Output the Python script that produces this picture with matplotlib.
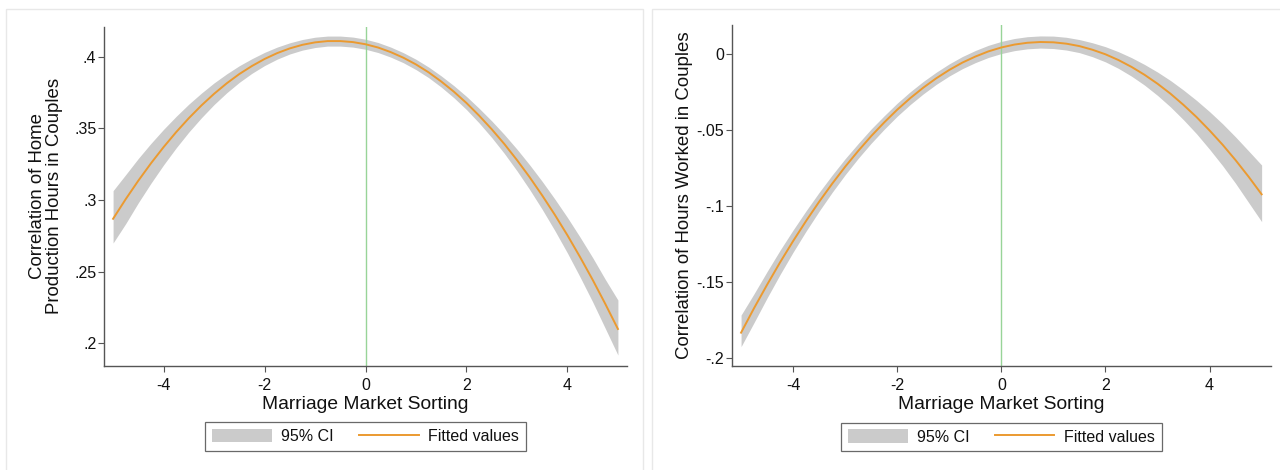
import matplotlib
matplotlib.use("Agg")
import matplotlib.pyplot as plt
from matplotlib.patches import Rectangle, Patch
from matplotlib.lines import Line2D

plt.rcParams['font.family'] = ['Liberation Sans', 'DejaVu Sans']

# ---------------- data ----------------
x_sort = [-5.0, -4.75, -4.5, -4.25, -4.0, -3.75, -3.5, -3.25, -3.0, -2.75, -2.5,
          -2.25, -2.0, -1.75, -1.5, -1.25, -1.0, -0.75, -0.5, -0.25, 0.0,
          0.25, 0.5, 0.75, 1.0, 1.25, 1.5, 1.75, 2.0, 2.25, 2.5,
          2.75, 3.0, 3.25, 3.5, 3.75, 4.0, 4.25, 4.5, 4.75, 5.0]

home_fit = [0.2869, 0.3006, 0.3135, 0.3256, 0.3369, 0.3474, 0.3571, 0.3660, 0.3741, 0.3814, 0.3879,
            0.3935, 0.3984, 0.4025, 0.4058, 0.4083, 0.4100, 0.4109, 0.4109, 0.4102, 0.4087,
            0.4064, 0.4032, 0.3993, 0.3946, 0.3891, 0.3827, 0.3756, 0.3677, 0.3589, 0.3494,
            0.3391, 0.3279, 0.3160, 0.3032, 0.2897, 0.2754, 0.2602, 0.2443, 0.2275, 0.2100]
home_lo = [0.2700, 0.2835, 0.2981, 0.3117, 0.3245, 0.3364, 0.3474, 0.3574, 0.3666, 0.3748, 0.3821,
           0.3884, 0.3938, 0.3983, 0.4019, 0.4046, 0.4064, 0.4074, 0.4074, 0.4067, 0.4052,
           0.4029, 0.3997, 0.3958, 0.3910, 0.3854, 0.3788, 0.3714, 0.3631, 0.3538, 0.3436,
           0.3325, 0.3204, 0.3074, 0.2935, 0.2787, 0.2630, 0.2463, 0.2289, 0.2104, 0.1918]
home_hi = [0.3065, 0.3177, 0.3290, 0.3395, 0.3493, 0.3584, 0.3669, 0.3746, 0.3817, 0.3880, 0.3937,
           0.3986, 0.4030, 0.4067, 0.4097, 0.4120, 0.4136, 0.4144, 0.4144, 0.4137, 0.4122,
           0.4099, 0.4067, 0.4028, 0.3982, 0.3928, 0.3866, 0.3798, 0.3723, 0.3640, 0.3552,
           0.3457, 0.3355, 0.3246, 0.3130, 0.3007, 0.2878, 0.2741, 0.2598, 0.2446, 0.2302]

work_fit = [-0.1835, -0.1673, -0.1519, -0.1371, -0.1231, -0.1098, -0.0972, -0.0853, -0.0741, -0.0637, -0.0539,
            -0.0449, -0.0365, -0.0289, -0.0220, -0.0158, -0.0103, -0.0055, -0.0015, 0.0019, 0.0045,
            0.0064, 0.0076, 0.0081, 0.0079, 0.0070, 0.0054, 0.0030, 0.0000, -0.0038, -0.0083,
            -0.0135, -0.0194, -0.0260, -0.0334, -0.0414, -0.0502, -0.0596, -0.0698, -0.0807, -0.0923]
work_lo = [-0.1927, -0.1768, -0.1606, -0.1451, -0.1304, -0.1165, -0.1034, -0.0910, -0.0794, -0.0686, -0.0586,
           -0.0494, -0.0408, -0.0331, -0.0261, -0.0198, -0.0143, -0.0095, -0.0055, -0.0021, 0.0005,
           0.0024, 0.0036, 0.0041, 0.0038, 0.0028, 0.0011, -0.0016, -0.0050, -0.0093, -0.0144,
           -0.0203, -0.0271, -0.0347, -0.0432, -0.0524, -0.0626, -0.0734, -0.0851, -0.0977, -0.1103]
work_hi = [-0.1719, -0.1578, -0.1432, -0.1291, -0.1158, -0.1031, -0.0910, -0.0796, -0.0688, -0.0588, -0.0492,
           -0.0405, -0.0322, -0.0247, -0.0179, -0.0118, -0.0063, -0.0015, 0.0025, 0.0059, 0.0085,
           0.0104, 0.0116, 0.0121, 0.0120, 0.0112, 0.0097, 0.0076, 0.0050, 0.0017, -0.0022,
           -0.0067, -0.0117, -0.0173, -0.0236, -0.0304, -0.0378, -0.0458, -0.0545, -0.0637, -0.0730]

x_ticks = [-4, -2, 0, 2, 4]
x_ticklabels = ["-4", "-2", "0", "2", "4"]
home_yticks = [0.2, 0.25, 0.3, 0.35, 0.4]
home_yticklabels = [".2", ".25", ".3", ".35", ".4"]
work_yticks = [-0.2, -0.15, -0.1, -0.05, 0.0]
work_yticklabels = ["-.2", "-.15", "-.1", "-.05", "0"]

xlabel = "Marriage Market Sorting"
home_ylabel = "Correlation of Home\nProduction Hours in Couples"
work_ylabel = "Correlation of Hours Worked in Couples"
legend_labels = ["95% CI", "Fitted values"]

# ---------------- styling ----------------
W, H = 1280, 470
fig = plt.figure(figsize=(W / 100, H / 100), dpi=100)

CI_COLOR = "#cbcbcb"
FIT_COLOR = "#eb9a30"
VLINE_COLOR = "#98d498"
AX_COLOR = "#555555"
FRAME_COLOR = "#e8e8e8"
TXT = "#111111"

# light panel borders (graph regions)
fig.add_artist(Rectangle((6 / W, -0.05), (643 - 6) / W, 1 - 9.3 / H + 0.05,
                         transform=fig.transFigure, fill=False,
                         edgecolor=FRAME_COLOR, lw=1.0))
fig.add_artist(Rectangle((652 / W, -0.05), (1290 - 652) / W, 1 - 9.3 / H + 0.05,
                         transform=fig.transFigure, fill=False,
                         edgecolor=FRAME_COLOR, lw=1.0))


def px_axes(x0, x1, y0, y1):
    return fig.add_axes([x0 / W, 1 - y1 / H, (x1 - x0) / W, (y1 - y0) / H])


axL = px_axes(104, 627, 26.7, 365.7)
axR = px_axes(731.7, 1271, 25, 366)

panels = [
    (axL, home_fit, home_lo, home_hi, home_yticks, home_yticklabels, home_ylabel,
     (0.18437, 0.42094), -0.079),
    (axR, work_fit, work_lo, work_hi, work_yticks, work_yticklabels, work_ylabel,
     (-0.20547, 0.01931), -0.072),
]

for ax, fit, lo, hi, yt, ytl, ylab, ylim, ylab_x in panels:
    ax.fill_between(x_sort, lo, hi, color=CI_COLOR, lw=0, zorder=1)
    ax.plot(x_sort, fit, color=FIT_COLOR, lw=1.4, zorder=3)
    ax.axvline(0, color=VLINE_COLOR, lw=1.0, zorder=2)
    ax.set_xlim(-5.18, 5.18)
    ax.set_ylim(*ylim)
    ax.set_xticks(x_ticks)
    ax.set_xticklabels(x_ticklabels)
    ax.set_yticks(yt)
    ax.set_yticklabels(ytl)
    for s in ["top", "right"]:
        ax.spines[s].set_visible(False)
    for s in ["left", "bottom"]:
        ax.spines[s].set_color(AX_COLOR)
        ax.spines[s].set_linewidth(1.0)
    ax.tick_params(axis="both", direction="out", length=4.2, width=0.8,
                   color=AX_COLOR, labelsize=11.5, labelcolor=TXT)
    ax.tick_params(axis="x", pad=4.5)
    ax.tick_params(axis="y", pad=1.2)
    ax.set_xlabel(xlabel, fontsize=13.9, color=TXT)
    ax.xaxis.set_label_coords(0.5, -0.088)
    ax.set_ylabel(ylab, fontsize=13.4, color=TXT, linespacing=1.0)
    ax.yaxis.set_label_coords(ylab_x, 0.5)

    handles = [Patch(facecolor=CI_COLOR, edgecolor="none"),
               Line2D([], [], color=FIT_COLOR, lw=1.4)]
    leg = ax.legend(handles, legend_labels, loc="upper center",
                    bbox_to_anchor=(0.5, -0.166), ncol=2, fontsize=11.5,
                    frameon=True, fancybox=False, borderaxespad=0,
                    handlelength=3.75, handleheight=0.94, handletextpad=0.6,
                    columnspacing=1.55, borderpad=0.42)
    fr = leg.get_frame()
    fr.set_edgecolor("#444444")
    fr.set_linewidth(0.9)
    fr.set_facecolor("white")
    for t in leg.get_texts():
        t.set_color(TXT)

fig.savefig("out.png", dpi=100)
